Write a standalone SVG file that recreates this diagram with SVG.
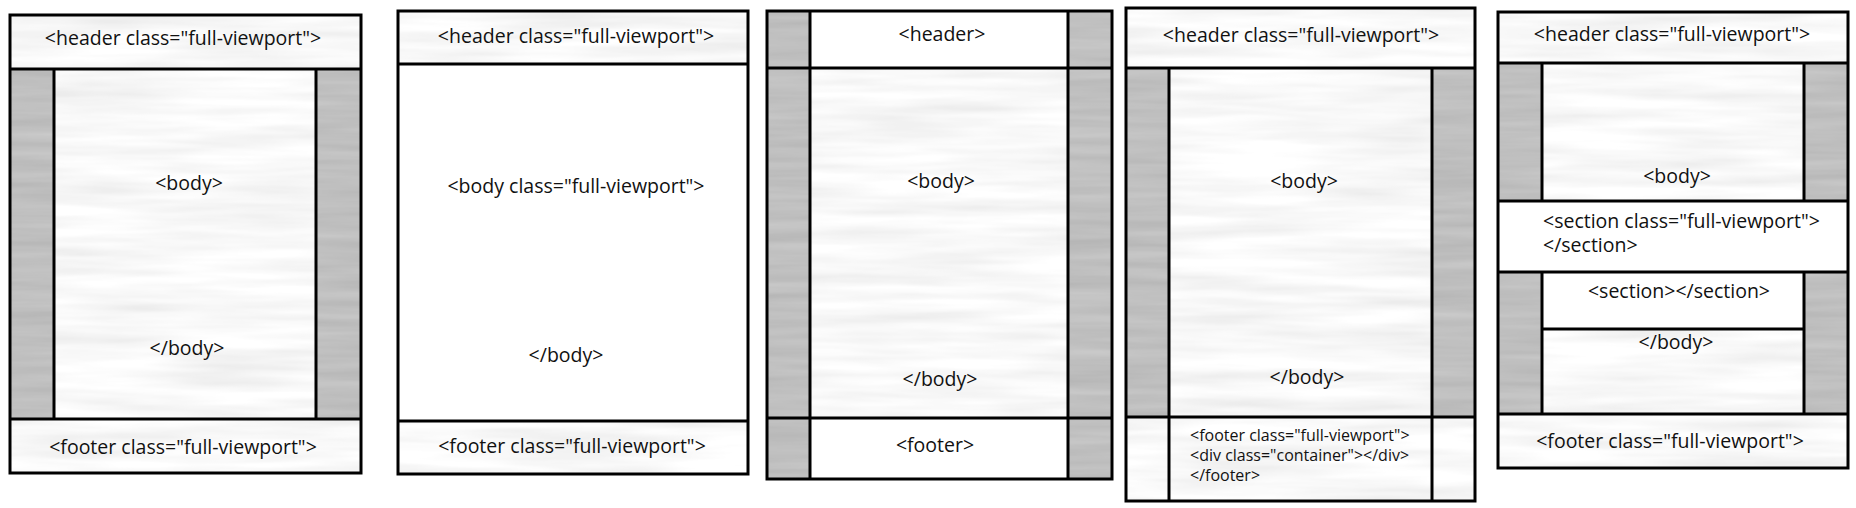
<svg xmlns="http://www.w3.org/2000/svg" width="1856" height="508" viewBox="0 0 1856 508">
<style>
.t{font-family:"Open Sans","Noto Sans","Liberation Sans",sans-serif;font-size:19.5px;fill:#111}
.s{font-family:"Open Sans","Noto Sans","Liberation Sans",sans-serif;font-size:16px;fill:#111}
.m{text-anchor:middle}
.ln{stroke:#000;stroke-width:3;fill:none}
.w{fill:#fff}
</style>
<defs>
<filter id="tex" x="0" y="0" width="1" height="1" filterUnits="objectBoundingBox" color-interpolation-filters="sRGB">
<feTurbulence type="fractalNoise" baseFrequency="0.006 0.07" numOctaves="3" seed="3"/>
<feColorMatrix type="matrix" values="-0.13 0 0 0 1.04  -0.13 0 0 0 1.04  -0.13 0 0 0 1.04  0 0 0 0 1"/>
<feComposite operator="in" in2="SourceGraphic"/>
</filter>
<filter id="gry" x="0" y="0" width="1" height="1" filterUnits="objectBoundingBox" color-interpolation-filters="sRGB">
<feTurbulence type="fractalNoise" baseFrequency="0.006 0.1" numOctaves="3" seed="7"/>
<feColorMatrix type="matrix" values="-0.1 0 0 0 0.8  -0.1 0 0 0 0.8  -0.1 0 0 0 0.8  0 0 0 0 1"/>
<feComposite operator="in" in2="SourceGraphic"/>
</filter>
</defs>
<rect width="1856" height="508" fill="#fff"/>

<g id="panel1">
<rect x="10" y="15" width="351" height="54" fill="#eee" filter="url(#tex)"/>
<rect x="10" y="69" width="44" height="350" fill="#bbb" filter="url(#gry)"/>
<rect x="316" y="69" width="45" height="350" fill="#bbb" filter="url(#gry)"/>
<rect x="54" y="69" width="262" height="350" fill="#eee" filter="url(#tex)"/>
<rect x="10" y="419" width="351" height="54" fill="#eee" filter="url(#tex)"/>
<path class="ln" d="M10 69H361M10 419H361M54 69V419M316 69V419"/>
<rect class="ln" x="10" y="15" width="351" height="458"/>
<text class="t m" x="183" y="45">&lt;header class="full-viewport"&gt;</text>
<text class="t m" x="189" y="190">&lt;body&gt;</text>
<text class="t m" x="187" y="355">&lt;/body&gt;</text>
<text class="t m" x="183" y="454">&lt;footer class="full-viewport"&gt;</text>
</g>

<g id="panel2">
<rect x="398" y="11" width="350" height="53" fill="#eee" filter="url(#tex)"/>
<rect class="w" x="398" y="64" width="350" height="357"/>
<rect x="398" y="421" width="350" height="53" fill="#eee" filter="url(#tex)"/>
<path class="ln" d="M398 64H748M398 421H748"/>
<rect class="ln" x="398" y="11" width="350" height="463"/>
<text class="t m" x="576" y="43">&lt;header class="full-viewport"&gt;</text>
<text class="t m" x="576" y="193">&lt;body class="full-viewport"&gt;</text>
<text class="t m" x="566" y="362">&lt;/body&gt;</text>
<text class="t m" x="572" y="453">&lt;footer class="full-viewport"&gt;</text>
</g>

<g id="panel3">
<rect x="767" y="11" width="43" height="468" fill="#bbb" filter="url(#gry)"/>
<rect x="1068" y="11" width="44" height="468" fill="#bbb" filter="url(#gry)"/>
<rect class="w" x="810" y="11" width="258" height="57"/>
<rect x="810" y="68" width="258" height="350" fill="#eee" filter="url(#tex)"/>
<rect class="w" x="810" y="418" width="258" height="61"/>
<path class="ln" d="M767 68H1112M767 418H1112M810 11V479M1068 11V479"/>
<rect class="ln" x="767" y="11" width="345" height="468"/>
<text class="t m" x="942" y="41">&lt;header&gt;</text>
<text class="t m" x="941" y="188">&lt;body&gt;</text>
<text class="t m" x="940" y="386">&lt;/body&gt;</text>
<text class="t m" x="935" y="452">&lt;footer&gt;</text>
</g>

<g id="panel4">
<rect x="1126" y="8" width="349" height="60" fill="#eee" filter="url(#tex)"/>
<rect x="1126" y="68" width="43" height="349" fill="#bbb" filter="url(#gry)"/>
<rect x="1432" y="68" width="43" height="349" fill="#bbb" filter="url(#gry)"/>
<rect x="1169" y="68" width="263" height="349" fill="#eee" filter="url(#tex)"/>
<rect x="1126" y="417" width="349" height="84" fill="#eee" filter="url(#tex)"/>
<path class="ln" d="M1126 68H1475M1126 417H1475M1169 68V501M1432 68V501"/>
<rect class="ln" x="1126" y="8" width="349" height="493"/>
<text class="t m" x="1301" y="42">&lt;header class="full-viewport"&gt;</text>
<text class="t m" x="1304" y="188">&lt;body&gt;</text>
<text class="t m" x="1307" y="384">&lt;/body&gt;</text>
<text class="s" x="1190" y="441">&lt;footer class="full-viewport"&gt;</text>
<text class="s" x="1190" y="461">&lt;div class="container"&gt;&lt;/div&gt;</text>
<text class="s" x="1190" y="481">&lt;/footer&gt;</text>
</g>

<g id="panel5">
<rect x="1498" y="12" width="350" height="51" fill="#eee" filter="url(#tex)"/>
<rect x="1498" y="63" width="44" height="138" fill="#bbb" filter="url(#gry)"/>
<rect x="1804" y="63" width="44" height="138" fill="#bbb" filter="url(#gry)"/>
<rect x="1542" y="63" width="262" height="138" fill="#eee" filter="url(#tex)"/>
<rect class="w" x="1498" y="201" width="350" height="71"/>
<rect x="1498" y="272" width="44" height="142" fill="#bbb" filter="url(#gry)"/>
<rect x="1804" y="272" width="44" height="142" fill="#bbb" filter="url(#gry)"/>
<rect class="w" x="1542" y="272" width="262" height="57"/>
<rect x="1542" y="329" width="262" height="85" fill="#eee" filter="url(#tex)"/>
<rect x="1498" y="414" width="350" height="54" fill="#eee" filter="url(#tex)"/>
<path class="ln" d="M1498 63H1848M1498 201H1848M1498 272H1848M1498 414H1848M1542 63V201M1804 63V201M1542 272V414M1804 272V414M1542 329H1804"/>
<rect class="ln" x="1498" y="12" width="350" height="456"/>
<text class="t m" x="1672" y="41">&lt;header class="full-viewport"&gt;</text>
<text class="t m" x="1677" y="183">&lt;body&gt;</text>
<text class="t" x="1543" y="228">&lt;section class="full-viewport"&gt;</text>
<text class="t" x="1543" y="252">&lt;/section&gt;</text>
<text class="t m" x="1679" y="298">&lt;section&gt;&lt;/section&gt;</text>
<text class="t m" x="1676" y="349">&lt;/body&gt;</text>
<text class="t m" x="1670" y="448">&lt;footer class="full-viewport"&gt;</text>
</g>
</svg>
